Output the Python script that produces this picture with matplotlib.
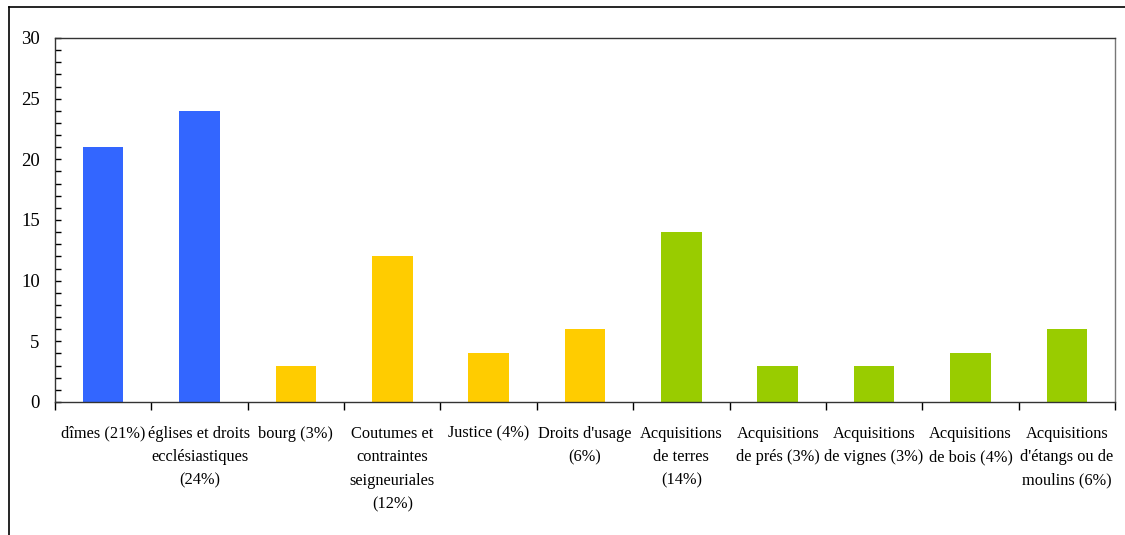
import matplotlib.pyplot as plt
from matplotlib.lines import Line2D
from matplotlib.ticker import MultipleLocator

# categories and values (%)
labels = [
    "dîmes (21%)",
    "églises et droits\necclésiastiques\n(24%)",
    "bourg (3%)",
    "Coutumes et\ncontraintes\nseigneuriales\n(12%)",
    "Justice (4%)",
    "Droits d'usage\n(6%)",
    "Acquisitions\nde terres\n(14%)",
    "Acquisitions\nde prés (3%)",
    "Acquisitions\nde vignes (3%)",
    "Acquisitions\nde bois (4%)",
    "Acquisitions\nd'étangs ou de\nmoulins (6%)",
]
values = [21, 24, 3, 12, 4, 6, 14, 3, 3, 4, 6]
groups = ["eccl", "eccl", "seig", "seig", "seig", "seig",
          "acq", "acq", "acq", "acq", "acq"]
group_colors = {"eccl": "#3366FF", "seig": "#FFCC00", "acq": "#99CC00"}

plt.rcParams['font.family'] = ['Liberation Serif', 'DejaVu Serif']

fig = plt.figure(figsize=(11.25, 5.35), dpi=100)
ax = fig.add_axes([55 / 1125, 1 - 402 / 535, 1060 / 1125, 364 / 535])

x = list(range(len(values)))
ax.bar(x, values, width=0.42, color=[group_colors[g] for g in groups])

ax.set_xlim(-0.5, len(values) - 0.5)
ax.set_ylim(0, 30)
ax.yaxis.set_major_locator(MultipleLocator(5))
ax.yaxis.set_minor_locator(MultipleLocator(1))
ax.tick_params(axis='y', which='both', direction='in', length=4, width=1,
               labelsize=13.5, pad=11)

# category labels between boundary ticks
ax.set_xticks([i + 0.5 for i in x[:-1]] + [-0.5, len(values) - 0.5])
ax.set_xticklabels([])
ax.tick_params(axis='x', direction='out', length=6, width=1)
for i, lab in enumerate(labels):
    ax.text(i, -1.95, lab, ha='center', va='top', fontsize=11.8,
            linespacing=1.62, transform=ax.transData)

for s in ax.spines.values():
    s.set_color('#333333')
    s.set_linewidth(1)
ax.spines['right'].set_color('#777777')

# outer frame
fig.add_artist(Line2D([9 / 1125, 9 / 1125], [0, 1 - 7 / 535], color='black', lw=1.2))
fig.add_artist(Line2D([9 / 1125, 1], [1 - 7 / 535, 1 - 7 / 535], color='black', lw=1.2))

fig.savefig("out.png", dpi=100)
